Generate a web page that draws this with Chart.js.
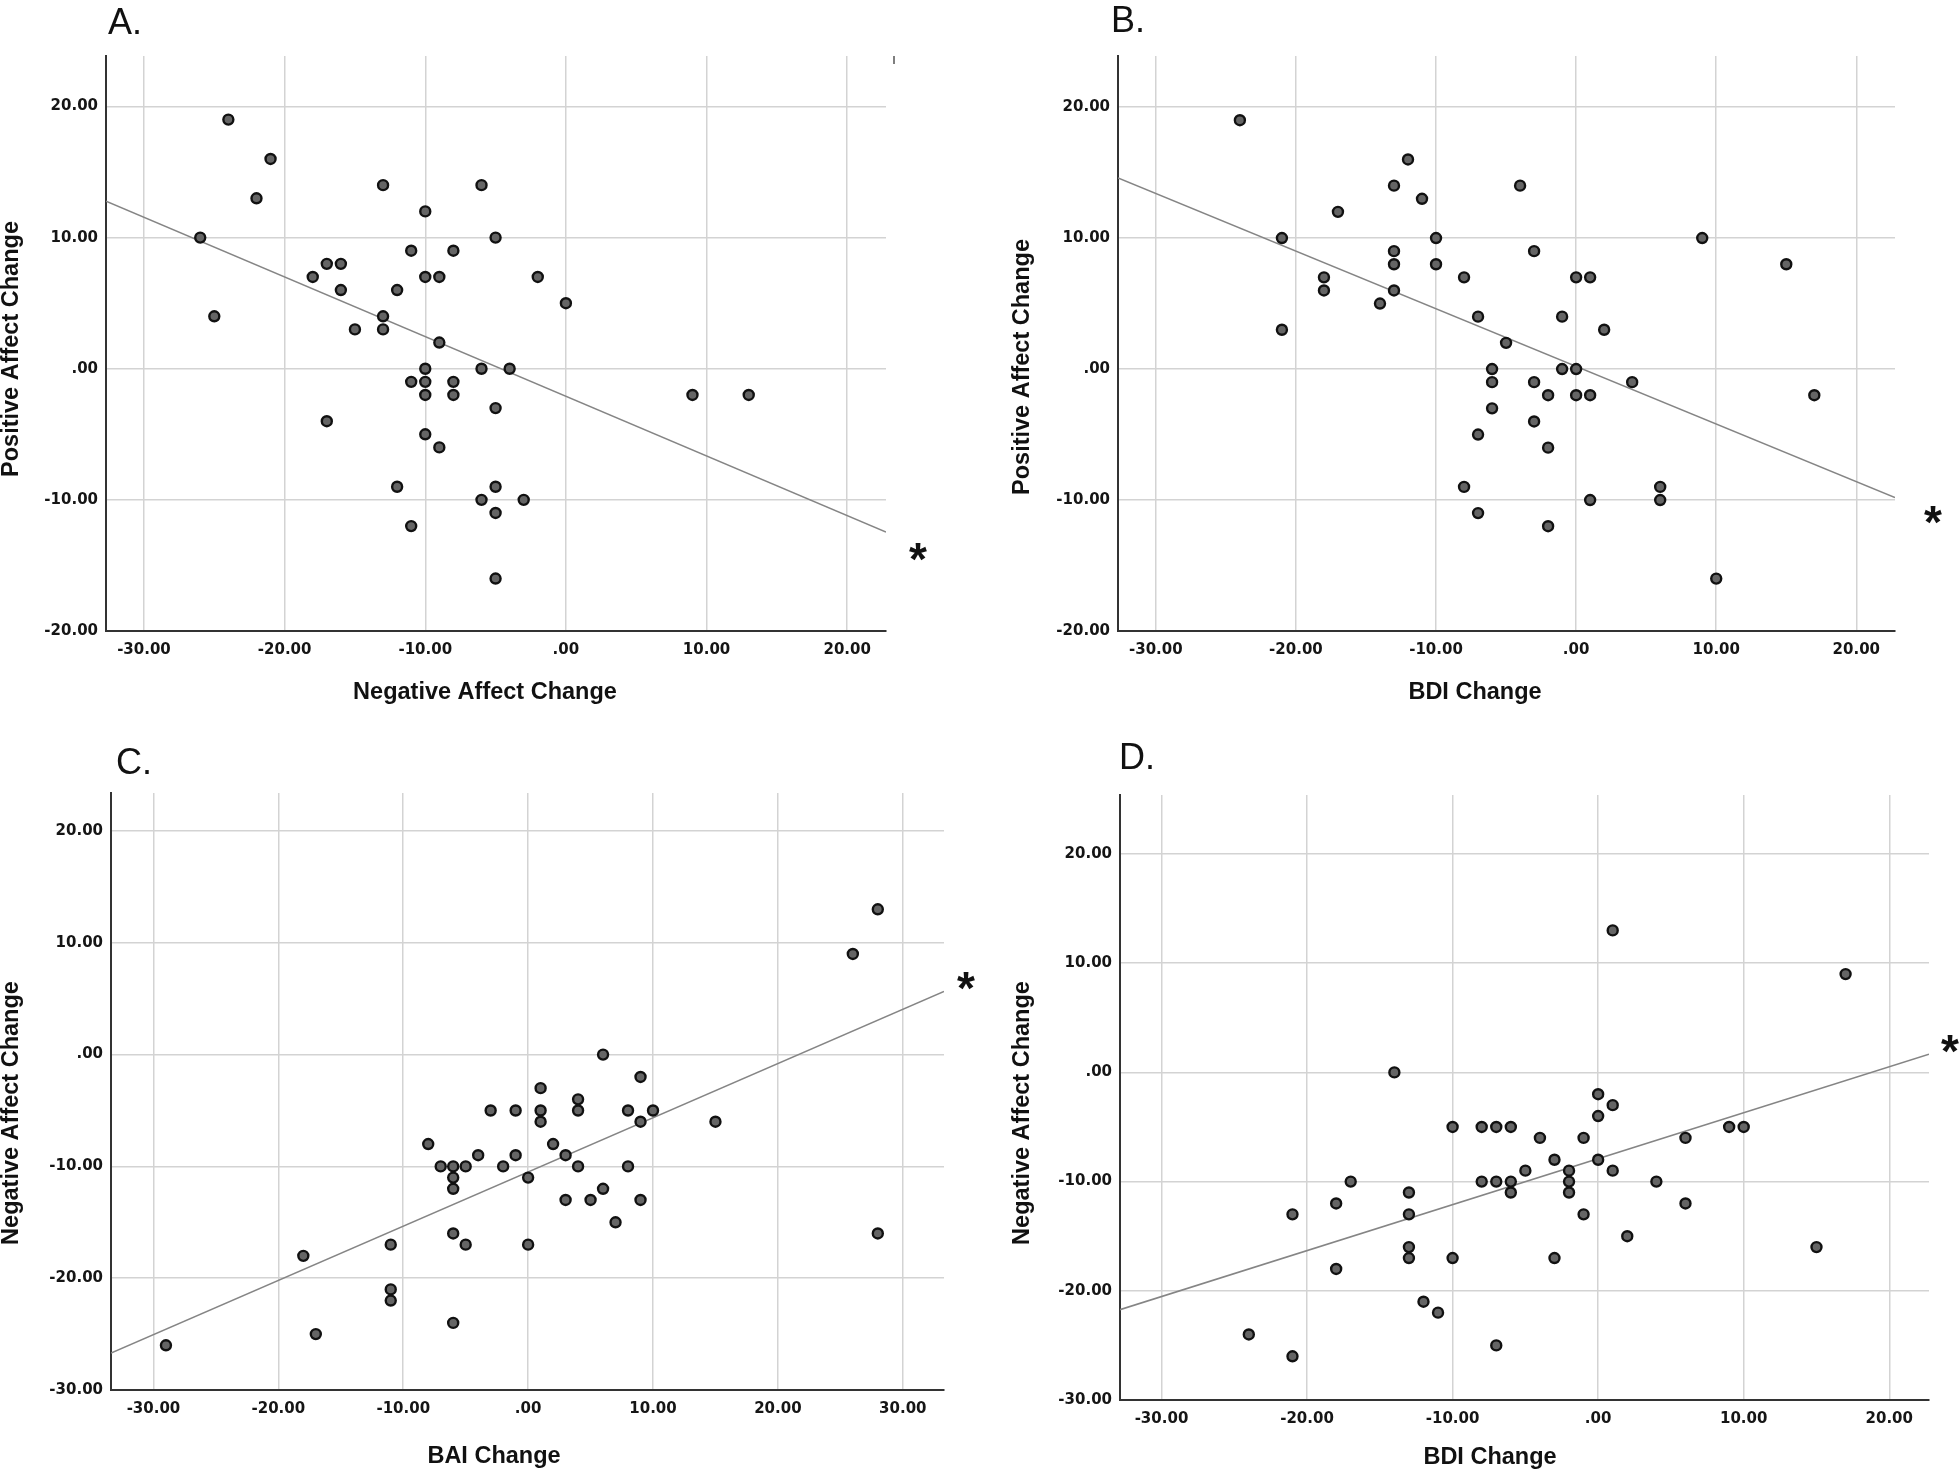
<!DOCTYPE html>
<html>
<head>
<meta charset="utf-8">
<script src="https://cdn.jsdelivr.net/npm/chart.js@4.4.1/dist/chart.umd.min.js"></script>
<style>
html, body { margin: 0; padding: 0; background: #ffffff; }
body { width: 1959px; height: 1472px; position: relative; overflow: hidden; }
canvas { position: absolute; display: block; }
</style>
</head>
<body>
<canvas id="cA" width="980" height="735" style="left:0px;top:0px;width:980px;height:735px"></canvas>
<canvas id="cB" width="979" height="735" style="left:980px;top:0px;width:979px;height:735px"></canvas>
<canvas id="cC" width="980" height="737" style="left:0px;top:735px;width:980px;height:737px"></canvas>
<canvas id="cD" width="979" height="737" style="left:980px;top:735px;width:979px;height:737px"></canvas>
<script>
// ---------------- DATA ----------------
// Panel A: Negative Affect Change (x) vs Positive Affect Change (y)
const panelA_x = [-24,-21,-22,-26,-25,-13,-6,-10,-5,-11,-8,-17,-16,-18,-10,-9,-2,-16,-12,-13,-13,-15,-9,-10,-6,-4,-11,-10,-8,-10,-8,-5,-17,-10,-9,-12,-5,-6,-3,-5,-11,-5,0,9,13];
const panelA_y = [19,16,13,10,4,14,14,12,10,9,9,8,8,7,7,7,7,6,6,4,3,3,2,0,0,0,-1,-1,-1,-2,-2,-3,-4,-5,-6,-9,-9,-10,-10,-11,-12,-16,5,-2,-2];
// Panel B: BDI Change (x) vs Positive Affect Change (y)
const panelB_x = [-24,-12,-13,-4,-11,-17,-21,-10,-13,-3,-13,-10,-18,-8,-18,-13,-14,-7,-21,-5,-6,-6,-3,-6,-3,-7,-8,-7,-2,-2,-2,0,1,-1,2,-1,0,0,1,4,6,6,1,10,9,15,17];
const panelB_y = [19,16,14,14,13,12,10,10,9,9,8,8,7,7,6,6,5,4,3,2,0,-1,-1,-3,-4,-5,-9,-11,-2,-6,-12,7,7,4,3,0,0,-2,-2,-1,-9,-10,-10,-16,10,8,-2];
// Panel C: BAI Change (x) vs Negative Affect Change (y)
const panelC_x = [-29,-18,-17,-11,-11,-11,-8,-7,-6,-6,-6,-5,-6,-5,-6,-4,-3,-2,-1,-1,0,0,1,1,1,2,3,3,4,4,4,5,6,6,7,8,8,9,9,9,10,15,26,28,28];
const panelC_y = [-26,-18,-25,-17,-21,-22,-8,-10,-10,-11,-12,-10,-16,-17,-24,-9,-5,-10,-5,-9,-11,-17,-3,-5,-6,-8,-9,-13,-4,-5,-10,-13,-12,0,-15,-5,-10,-2,-6,-13,-5,-6,9,13,-16];
// Panel D: BDI Change (x) vs Negative Affect Change (y)
const panelD_x = [-14,-10,-8,-7,-6,-4,-5,-8,-7,-6,-6,-17,-21,-18,-13,-13,-13,-13,-18,-10,-12,-11,-24,-21,-7,1,17,0,0,1,-1,-3,0,-2,-2,-2,1,4,6,9,10,6,-1,2,-3,15];
const panelD_y = [0,-5,-5,-5,-5,-6,-9,-10,-10,-10,-11,-10,-13,-12,-11,-13,-16,-17,-18,-17,-21,-22,-24,-26,-25,13,9,-2,-4,-3,-6,-8,-8,-9,-10,-11,-9,-10,-6,-5,-5,-12,-13,-15,-17,-16];

// Fit lines: [intercept, slope]
const fitA = [-2.1, -0.455];
const fitB = [0.2, -0.44];
const fitC = [-10.5, 0.485];
const fitD = [-7.9, 0.421];

// Axis ranges [min, max]
const xRangeA = [-32.7, 22.76], yRangeA = [-20, 23.85];
const xRangeB = [-32.7, 22.76], yRangeB = [-20, 23.9];
const xRangeC = [-33.4, 33.3],  yRangeC = [-30, 23.4];
const xRangeD = [-32.85, 22.73], yRangeD = [-30, 25.4];

// Tick values and labels
const xTicksAB = [-30, -20, -10, 0, 10, 20];
const xTickLabelsAB = ['-30.00', '-20.00', '-10.00', '.00', '10.00', '20.00'];
const yTicksAB = [-20, -10, 0, 10, 20];
const yTickLabelsAB = ['-20.00', '-10.00', '.00', '10.00', '20.00'];
const xTicksC = [-30, -20, -10, 0, 10, 20, 30];
const xTickLabelsC = ['-30.00', '-20.00', '-10.00', '.00', '10.00', '20.00', '30.00'];
const yTicksCD = [-30, -20, -10, 0, 10, 20];
const yTickLabelsCD = ['-30.00', '-20.00', '-10.00', '.00', '10.00', '20.00'];

// Titles
const panelLetters = ['A.', 'B.', 'C.', 'D.'];
const xTitles = ['Negative Affect Change', 'BDI Change', 'BAI Change', 'BDI Change'];
const yTitles = ['Positive Affect Change', 'Positive Affect Change', 'Negative Affect Change', 'Negative Affect Change'];
const significanceMark = '*';

// ---------------- DRAWING ----------------
const TITLE_FONT = 'bold 23.5px "Liberation Sans", Arial, sans-serif';
const LETTER_FONT = '36px "Liberation Sans", Arial, sans-serif';
const STAR_FONT = 'bold 46px "Liberation Sans", Arial, sans-serif';

const decor = {
  id: 'decor',
  afterDraw(chart, args, o) {
    const ctx = chart.ctx;
    for (const t of o.items) {
      ctx.save();
      ctx.font = t.font;
      ctx.fillStyle = t.color || '#111111';
      ctx.textAlign = t.align || 'center';
      ctx.textBaseline = t.baseline || 'middle';
      ctx.translate(t.x - o.ox, t.y - o.oy);
      if (t.rot) ctx.rotate(t.rot);
      ctx.fillText(t.text, 0, 0);
      ctx.restore();
    }
    if (o.mark) {
      ctx.save();
      ctx.strokeStyle = '#555555';
      ctx.lineWidth = 1.5;
      ctx.beginPath();
      ctx.moveTo(o.mark[0] - o.ox, o.mark[1] - o.oy);
      ctx.lineTo(o.mark[0] - o.ox, o.mark[2] - o.oy);
      ctx.stroke();
      ctx.restore();
    }
  }
};

function makePanel(p) {
  const pts = p.xs.map((x, i) => ({ x: x, y: p.ys[i] }));
  const fitPts = p.xRange.map(x => ({ x: x, y: p.fit[0] + p.fit[1] * x }));
  const yAxisWidth = p.area.l - p.cx;
  const xAxisHeight = p.cy + p.h - p.area.b;
  const items = [
    { text: p.letter, x: p.letterPos[0], y: p.letterPos[1], font: LETTER_FONT, align: 'left', baseline: 'alphabetic', color: '#111' },
    { text: p.xTitle, x: p.xTitlePos[0], y: p.xTitlePos[1], font: TITLE_FONT },
    { text: p.yTitle, x: p.yTitlePos[0], y: p.yTitlePos[1], font: TITLE_FONT, rot: -Math.PI / 2 },
    { text: significanceMark, x: p.starPos[0], y: p.starPos[1] + 21, font: STAR_FONT, baseline: 'alphabetic' }
  ];
  const gridOpts = { color: '#d3d3d3', lineWidth: 1.5, drawTicks: false };
  const borderOpts = { display: true, color: '#333333', width: 2 };
  const tickFont = { family: '"DejaVu Sans", Verdana, sans-serif', size: 15, weight: 'bold' };
  new Chart(document.getElementById(p.id), {
    data: {
      datasets: [
        {
          type: 'scatter', data: pts, order: 0,
          pointRadius: 5, pointHoverRadius: 5,
          pointBackgroundColor: '#656565', pointBorderColor: '#111111', pointBorderWidth: 2.4
        },
        {
          type: 'line', data: fitPts, order: 1,
          borderColor: '#858585', borderWidth: 1.6, pointRadius: 0, fill: false, tension: 0
        }
      ]
    },
    options: {
      responsive: false, animation: false, events: [],
      layout: { padding: { left: 0, top: p.area.t - p.cy, right: p.cx + p.w - p.area.r, bottom: 0 } },
      plugins: { legend: { display: false }, tooltip: { enabled: false }, decor: { items: items, ox: p.cx, oy: p.cy, mark: p.mark } },
      scales: {
        x: {
          type: 'linear', position: 'bottom', min: p.xRange[0], max: p.xRange[1],
          afterBuildTicks: s => { s.ticks = p.xTicks.map(v => ({ value: v })); },
          afterFit: s => { s.height = xAxisHeight; },
          ticks: { autoSkip: false, maxRotation: 0, padding: 10, font: tickFont, color: '#151515',
                   callback: (v, i) => p.xTickLabels[p.xTicks.indexOf(v)] },
          grid: gridOpts, border: borderOpts
        },
        y: {
          type: 'linear', position: 'left', min: p.yRange[0], max: p.yRange[1],
          afterBuildTicks: s => { s.ticks = p.yTicks.map(v => ({ value: v })); },
          afterFit: s => { s.width = yAxisWidth; },
          ticks: { autoSkip: false, padding: 8, font: tickFont, color: '#151515',
                   callback: (v, i) => p.yTickLabels[p.yTicks.indexOf(v)] },
          grid: gridOpts, border: borderOpts
        }
      }
    },
    plugins: [decor]
  });
}

makePanel({
  id: 'cA', cx: 0, cy: 0, w: 980, h: 735, area: { l: 106, r: 886, t: 56, b: 631 },
  xs: panelA_x, ys: panelA_y, fit: fitA, xRange: xRangeA, yRange: yRangeA,
  xTicks: xTicksAB, xTickLabels: xTickLabelsAB, yTicks: yTicksAB, yTickLabels: yTickLabelsAB,
  letter: panelLetters[0], xTitle: xTitles[0], yTitle: yTitles[0],
  letterPos: [108, 34], xTitlePos: [485, 693], yTitlePos: [12, 349], starPos: [918, 554],
  mark: [894, 56, 64]
});
makePanel({
  id: 'cB', cx: 980, cy: 0, w: 979, h: 735, area: { l: 1118, r: 1895, t: 56, b: 631 },
  xs: panelB_x, ys: panelB_y, fit: fitB, xRange: xRangeB, yRange: yRangeB,
  xTicks: xTicksAB, xTickLabels: xTickLabelsAB, yTicks: yTicksAB, yTickLabels: yTickLabelsAB,
  letter: panelLetters[1], xTitle: xTitles[1], yTitle: yTitles[1],
  letterPos: [1111, 32], xTitlePos: [1475, 693], yTitlePos: [1023, 367], starPos: [1933, 517]
});
makePanel({
  id: 'cC', cx: 0, cy: 735, w: 980, h: 737, area: { l: 111, r: 944, t: 793, b: 1390 },
  xs: panelC_x, ys: panelC_y, fit: fitC, xRange: xRangeC, yRange: yRangeC,
  xTicks: xTicksC, xTickLabels: xTickLabelsC, yTicks: yTicksCD, yTickLabels: yTickLabelsCD,
  letter: panelLetters[2], xTitle: xTitles[2], yTitle: yTitles[2],
  letterPos: [116, 774], xTitlePos: [494, 1457], yTitlePos: [12, 1113], starPos: [966, 983]
});
makePanel({
  id: 'cD', cx: 980, cy: 735, w: 979, h: 737, area: { l: 1120, r: 1929, t: 795, b: 1400 },
  xs: panelD_x, ys: panelD_y, fit: fitD, xRange: xRangeD, yRange: yRangeD,
  xTicks: xTicksAB, xTickLabels: xTickLabelsAB, yTicks: yTicksCD, yTickLabels: yTickLabelsCD,
  letter: panelLetters[3], xTitle: xTitles[3], yTitle: yTitles[3],
  letterPos: [1119, 769], xTitlePos: [1490, 1458], yTitlePos: [1023, 1113], starPos: [1950, 1046]
});
</script>
</body>
</html>
